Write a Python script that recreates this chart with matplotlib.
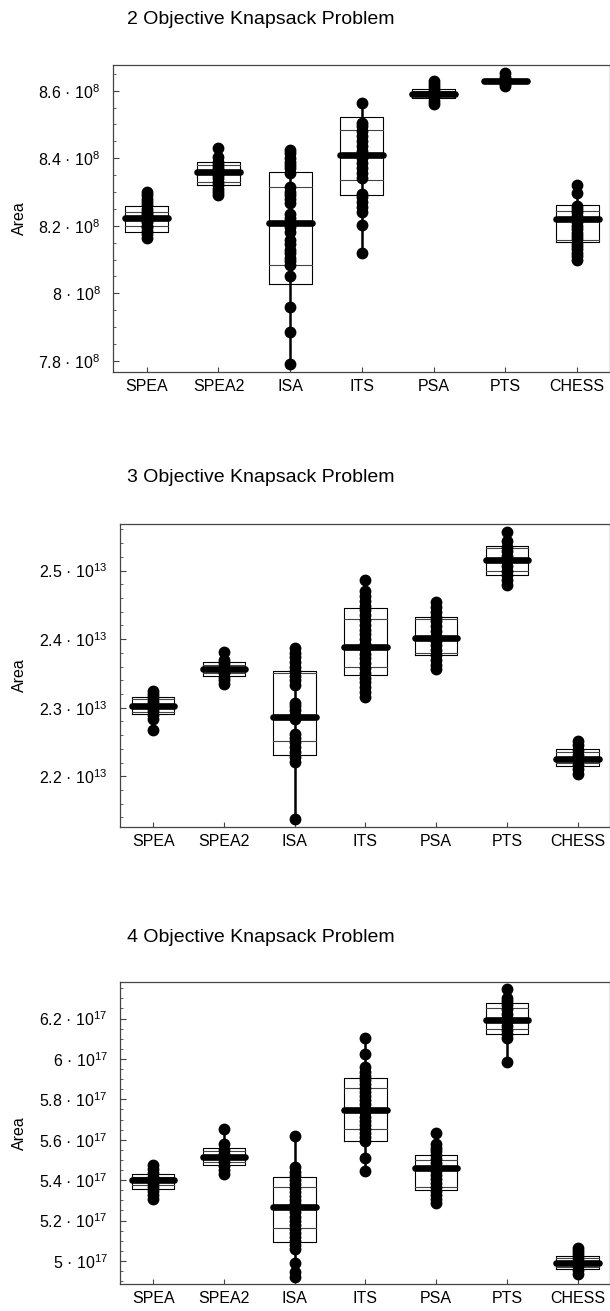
import matplotlib
matplotlib.use("Agg")
import matplotlib.pyplot as plt
from matplotlib.ticker import MultipleLocator

plt.rcParams["font.family"] = ["Liberation Sans", "DejaVu Sans"]
plt.rcParams["mathtext.fontset"] = "custom"
plt.rcParams["mathtext.rm"] = "Liberation Sans"
plt.rcParams["mathtext.it"] = "Liberation Sans:italic"

methods = ["SPEA", "SPEA2", "ISA", "ITS", "PSA", "PTS", "CHESS"]

# ---- 2 objectives (units of 1e8) ----
pts_2obj = [
    [8.165, 8.175, 8.185, 8.195, 8.20, 8.21, 8.215, 8.22, 8.225, 8.23, 8.235, 8.24, 8.25, 8.26, 8.27, 8.28, 8.29, 8.30],
    [8.29, 8.30, 8.31, 8.32, 8.33, 8.34, 8.35, 8.355, 8.36, 8.365, 8.37, 8.38, 8.39, 8.405, 8.429],
    [7.792, 7.885, 7.96, 8.05, 8.085, 8.095, 8.105, 8.119, 8.129, 8.145, 8.159, 8.183, 8.197, 8.21, 8.222, 8.235,
     8.267, 8.278, 8.29, 8.30, 8.314, 8.356, 8.37, 8.38, 8.39, 8.40, 8.415, 8.425],
    [8.119, 8.203, 8.24, 8.255, 8.27, 8.285, 8.295, 8.34, 8.355, 8.37, 8.385, 8.40, 8.41, 8.42, 8.435, 8.45, 8.465,
     8.48, 8.495, 8.505, 8.563],
    [8.56, 8.57, 8.58, 8.585, 8.59, 8.595, 8.60, 8.61, 8.62, 8.628],
    [8.613, 8.62, 8.625, 8.63, 8.635, 8.64, 8.653],
    [8.098, 8.11, 8.12, 8.13, 8.14, 8.15, 8.16, 8.17, 8.18, 8.19, 8.20, 8.21, 8.22, 8.23, 8.24, 8.25, 8.259, 8.297, 8.321],
]
# outer box low/high, inner lines low/high, median
box_2obj = [
    (8.183, 8.259, 8.198, 8.240, 8.222),
    (8.321, 8.389, 8.330, 8.379, 8.358),
    (8.028, 8.358, 8.084, 8.314, 8.208),
    (8.290, 8.521, 8.336, 8.484, 8.409),
    (8.577, 8.604, 8.583, 8.600, 8.591),
    (8.622, 8.636, 8.625, 8.633, 8.629),
    (8.151, 8.262, 8.159, 8.245, 8.220),
]

# ---- 3 objectives (units of 1e13) ----
pts_3obj = [
    [2.268, 2.283, 2.29, 2.295, 2.30, 2.302, 2.305, 2.31, 2.315, 2.32, 2.325],
    [2.334, 2.34, 2.345, 2.35, 2.355, 2.36, 2.365, 2.369, 2.382],
    [2.137, 2.221, 2.228, 2.235, 2.242, 2.25, 2.256, 2.262, 2.284, 2.29, 2.296, 2.302, 2.307, 2.333, 2.34, 2.347,
     2.354, 2.36, 2.367, 2.374, 2.38, 2.387],
    [2.316, 2.323, 2.33, 2.337, 2.344, 2.351, 2.358, 2.365, 2.372, 2.379, 2.386, 2.393, 2.40, 2.407, 2.414, 2.421,
     2.428, 2.435, 2.442, 2.449, 2.456, 2.463, 2.470, 2.487],
    [2.356, 2.363, 2.37, 2.377, 2.384, 2.391, 2.398, 2.405, 2.412, 2.419, 2.426, 2.433, 2.44, 2.447, 2.454],
    [2.479, 2.486, 2.493, 2.50, 2.507, 2.514, 2.521, 2.528, 2.535, 2.543, 2.557],
    [2.203, 2.21, 2.217, 2.224, 2.231, 2.238, 2.245, 2.252],
]
box_3obj = [
    (2.291, 2.315, 2.294, 2.312, 2.302),
    (2.346, 2.366, 2.350, 2.363, 2.356),
    (2.231, 2.353, 2.251, 2.350, 2.287),
    (2.348, 2.445, 2.359, 2.430, 2.389),
    (2.377, 2.433, 2.380, 2.430, 2.401),
    (2.493, 2.536, 2.500, 2.533, 2.515),
    (2.215, 2.240, 2.220, 2.236, 2.225),
]

# ---- 4 objectives (units of 1e17) ----
pts_4obj = [
    [5.306, 5.325, 5.345, 5.365, 5.385, 5.40, 5.415, 5.435, 5.455, 5.473],
    [5.430, 5.45, 5.47, 5.49, 5.51, 5.53, 5.55, 5.577, 5.651],
    [4.919, 4.947, 4.991, 5.059, 5.08, 5.10, 5.12, 5.14, 5.16, 5.18, 5.20, 5.22, 5.24, 5.26, 5.28, 5.30, 5.32,
     5.34, 5.36, 5.38, 5.40, 5.42, 5.44, 5.465, 5.618],
    [5.446, 5.512, 5.595, 5.615, 5.635, 5.655, 5.675, 5.695, 5.715, 5.735, 5.755, 5.775, 5.795, 5.815, 5.835,
     5.855, 5.875, 5.895, 5.915, 5.935, 5.959, 6.027, 6.106],
    [5.286, 5.305, 5.325, 5.345, 5.365, 5.385, 5.405, 5.425, 5.445, 5.465, 5.485, 5.505, 5.525, 5.545, 5.56,
     5.577, 5.634],
    [5.986, 6.106, 6.125, 6.145, 6.165, 6.185, 6.205, 6.225, 6.245, 6.265, 6.285, 6.302, 6.348],
    [4.935, 4.955, 4.975, 4.995, 5.015, 5.035, 5.05, 5.065],
]
box_4obj = [
    (5.357, 5.433, 5.374, 5.417, 5.399),
    (5.473, 5.560, 5.489, 5.545, 5.516),
    (5.094, 5.417, 5.161, 5.367, 5.267),
    (5.593, 5.908, 5.651, 5.854, 5.745),
    (5.351, 5.527, 5.367, 5.499, 5.458),
    (6.122, 6.278, 6.147, 6.253, 6.192),
    (4.958, 5.024, 4.971, 5.013, 4.988),
]

titles = ["2 Objective Knapsack Problem", "3 Objective Knapsack Problem", "4 Objective Knapsack Problem"]
exponents = [8, 13, 17]
yticks = [[7.8, 8.0, 8.2, 8.4, 8.6], [2.2, 2.3, 2.4, 2.5], [5.0, 5.2, 5.4, 5.6, 5.8, 6.0, 6.2]]
minor_steps = [0.05, 0.02, 0.05]
ylims = [(7.767, 8.676), (2.126, 2.568), (4.886, 6.381)]

panels = [(pts_2obj, box_2obj), (pts_3obj, box_3obj), (pts_4obj, box_4obj)]

W, H = 610, 1311
fig = plt.figure(figsize=(W / 100, H / 100), dpi=100)

# axes boxes in pixels: left, top, right, bottom
ax_pix = [(113, 65, 609.5, 372), (120, 524, 609.5, 827), (120, 982, 609.5, 1284)]
title_y = [20, 477, 937]

for k, ((pts, boxes), (l, t, r, b)) in enumerate(zip(panels, ax_pix)):
    ax = fig.add_axes([l / W, 1 - b / H, (r - l) / W, (b - t) / H])
    hw = 0.3
    for i, (vals, (blo, bhi, ilo, ihi, med)) in enumerate(zip(pts, boxes)):
        x = i + 1
        # outer box
        ax.plot([x - hw, x + hw, x + hw, x - hw, x - hw], [blo, blo, bhi, bhi, blo],
                color="black", lw=0.8, zorder=2)
        # inner lines
        ax.plot([x - hw, x + hw], [ilo, ilo], color="#444444", lw=0.8, zorder=2)
        ax.plot([x - hw, x + hw], [ihi, ihi], color="#444444", lw=0.8, zorder=2)
        # vertical line through all points
        ax.plot([x, x], [min(vals), max(vals)], color="black", lw=1.8, zorder=3)
        # points
        ax.plot([x] * len(vals), vals, "o", color="black", ms=7.5, zorder=4)
        # median bar
        ax.plot([x - hw, x + hw], [med, med], color="black", lw=4.8,
                solid_capstyle="round", zorder=5)

    ax.set_xlim(0.53, 7.45)
    ax.set_ylim(*ylims[k])
    ax.set_xticks(range(1, 8))
    ax.set_xticklabels(methods, fontsize=11.5)
    e = exponents[k]
    labels = []
    for v in yticks[k]:
        s = f"{v:g}"
        labels.append(s + " · 10$^{" + str(e) + "}$")
    ax.set_yticks(yticks[k])
    ax.set_yticklabels(labels, fontsize=11.5)
    ax.yaxis.set_minor_locator(MultipleLocator(minor_steps[k]))
    ax.tick_params(axis="both", which="both", direction="in", top=False, right=False, color="#444444")
    ax.tick_params(axis="y", which="major", length=4, pad=9)
    ax.tick_params(axis="y", which="minor", length=2)
    ax.tick_params(axis="x", which="major", length=3.5, pad=5)
    for sp in ax.spines.values():
        sp.set_color("#444444")
        sp.set_linewidth(0.9)

    fig.text(19 / W, 1 - ((t + b) / 2) / H, "Area", rotation=90, ha="center", va="center", fontsize=11.5)
    fig.text(127 / W, 1 - title_y[k] / H, titles[k], ha="left", va="center", fontsize=14)

fig.savefig("out.png", dpi=100)
